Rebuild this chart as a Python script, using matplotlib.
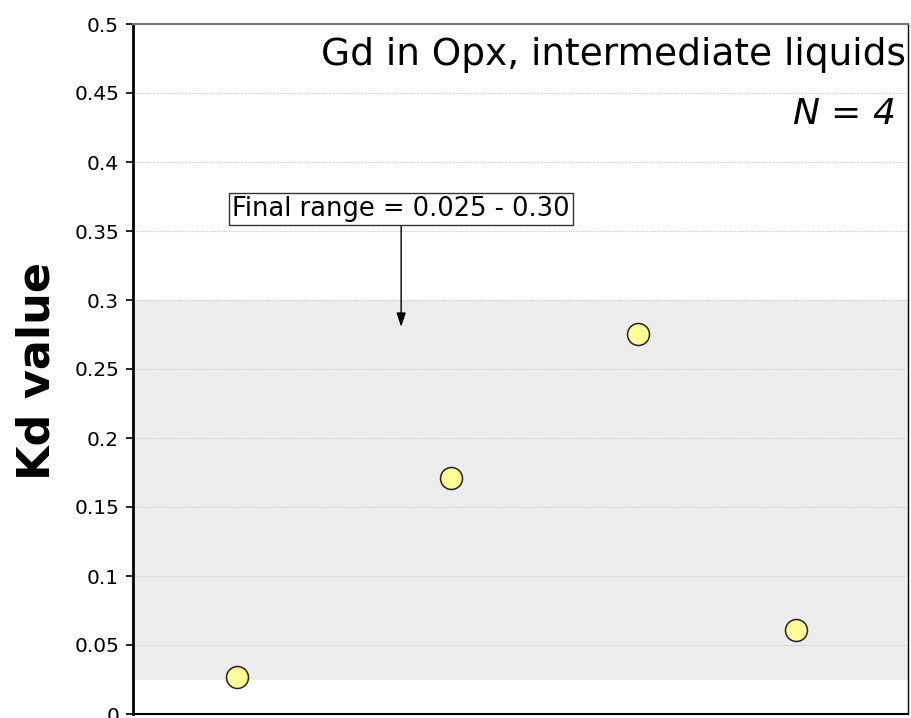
import matplotlib
matplotlib.use("Agg")
import matplotlib.pyplot as plt

# Gd partition coefficients between orthopyroxene and intermediate liquids
sample_x = [0.134, 0.410, 0.652, 0.855]
kd_values = [0.027, 0.171, 0.2755, 0.061]
range_low, range_high = 0.025, 0.30
y_ticks = [0, 0.05, 0.1, 0.15, 0.2, 0.25, 0.3, 0.35, 0.4, 0.45, 0.5]
y_tick_labels = ["0", "0.05", "0.1", "0.15", "0.2", "0.25", "0.3", "0.35", "0.4", "0.45", "0.5"]

plt.rcParams["font.family"] = ["DejaVu Sans"]

fig = plt.figure(figsize=(9.11, 7.18), dpi=100)
ax = fig.add_axes([133 / 911, 1 - 714 / 718, 775 / 911, 690 / 718])

ax.set_xlim(0, 1)
ax.set_ylim(0, 0.5)

# final accepted range
ax.axhspan(range_low, range_high, color="#ececec", zorder=0, lw=0)

# dotted gridlines
for t in y_ticks[1:-1]:
    ax.axhline(t, color="#c8c8c8", lw=0.8, ls=(0, (1, 1.2)), zorder=1)

ax.scatter(sample_x, kd_values, s=250, facecolor="#ffff99", edgecolor="#222222",
           linewidth=1.1, zorder=3)

ax.set_yticks(y_ticks)
ax.set_yticklabels(y_tick_labels, fontsize=14.5)
ax.set_xticks([])
ax.tick_params(axis="y", direction="out", length=5, width=1.2, pad=5)

ax.spines["left"].set_linewidth(2)
ax.spines["bottom"].set_linewidth(1.5)
ax.spines["right"].set_linewidth(1)
ax.spines["top"].set_linewidth(1.5)
ax.spines["top"].set_color("#777777")

fig.text(37 / 911, 1 - 371 / 718, "Kd value", rotation=90, ha="center", va="center",
         fontsize=32, fontweight="bold")

ax.text(0.997, 0.955, "Gd in Opx, intermediate liquids", transform=ax.transAxes,
        ha="right", va="center", fontsize=27)
ax.text(0.983, 0.87, "$N$ = 4", transform=ax.transAxes, ha="right", va="center",
        fontsize=26, style="italic")

ax.annotate("Final range = 0.025 - 0.30", xy=(0.346, 0.2805), xytext=(0.346, 0.366),
            xycoords=("axes fraction", "data"), textcoords=("axes fraction", "data"),
            ha="center", va="center", fontsize=18.5,
            bbox=dict(boxstyle="square,pad=0.12", fc="white", ec="#333333", lw=1),
            arrowprops=dict(arrowstyle="-|>,head_length=0.6,head_width=0.2", color="black",
                            lw=1, mutation_scale=14, shrinkA=0, shrinkB=0))

fig.savefig("out.png", dpi=100)
